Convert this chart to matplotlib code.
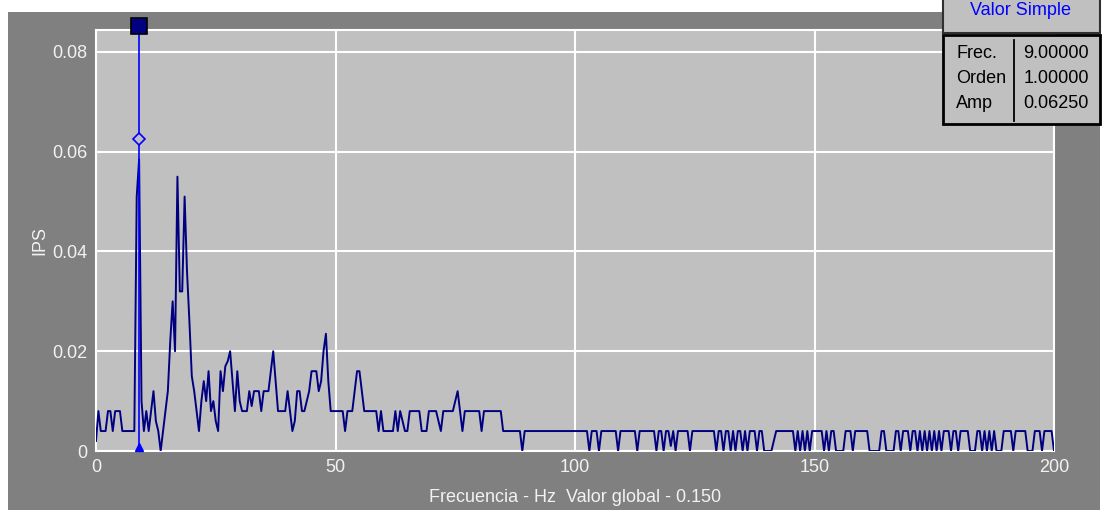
import matplotlib
matplotlib.use("Agg")
import matplotlib.pyplot as plt
import numpy as np
from matplotlib.patches import Rectangle

plt.rcParams['font.family'] = ['Liberation Sans', 'DejaVu Sans']

# spectrum, 0.5 Hz lines from 0 to 200 Hz (IPS)
amp_0_25 = [0.002, 0.008, 0.004, 0.004, 0.004, 0.008, 0.008, 0.004, 0.008, 0.008,
            0.008, 0.004, 0.004, 0.004, 0.004, 0.004, 0.004, 0.051, 0.0585, 0.010,
            0.004, 0.008, 0.004, 0.008, 0.012, 0.006, 0.004, 0.000, 0.004, 0.008,
            0.012, 0.022, 0.030, 0.020, 0.055, 0.032, 0.032, 0.051, 0.036, 0.026,
            0.015, 0.012, 0.008, 0.004, 0.010, 0.014, 0.010, 0.016, 0.008, 0.010,
            0.006]
amp_25_50 = [0.004, 0.016, 0.012, 0.017, 0.018, 0.020, 0.014, 0.008, 0.016, 0.010,
             0.008, 0.008, 0.008, 0.012, 0.009, 0.012, 0.012, 0.012, 0.008, 0.012,
             0.012, 0.012, 0.016, 0.020, 0.014, 0.008, 0.008, 0.008, 0.008, 0.012,
             0.008, 0.004, 0.006, 0.012, 0.012, 0.008, 0.008, 0.010, 0.012, 0.016,
             0.016, 0.016, 0.012, 0.014, 0.020, 0.0235, 0.014, 0.008, 0.008, 0.008]
amp_50_90 = [0.008, 0.008, 0.008, 0.004, 0.008, 0.008, 0.008, 0.012, 0.016, 0.016,
             0.012, 0.008, 0.008, 0.008, 0.008, 0.008, 0.008, 0.004, 0.008, 0.004,
             0.004, 0.004, 0.004, 0.004, 0.008, 0.004, 0.008, 0.006, 0.004, 0.004,
             0.008, 0.008, 0.008, 0.008, 0.008, 0.004, 0.004, 0.004, 0.008, 0.008,
             0.008, 0.008, 0.006, 0.004, 0.008, 0.008, 0.008, 0.008, 0.008, 0.010,
             0.012, 0.008, 0.004, 0.008, 0.008, 0.008, 0.008, 0.008, 0.008, 0.008,
             0.004, 0.008, 0.008, 0.008, 0.008, 0.008, 0.008, 0.008, 0.008, 0.004,
             0.004, 0.004, 0.004, 0.004, 0.004, 0.004, 0.004, 0.000, 0.004, 0.004]
amp_90_150 = [0.004, 0.004, 0.004, 0.004, 0.004, 0.004, 0.004, 0.004, 0.004, 0.004,
              0.004, 0.004, 0.004, 0.004, 0.004, 0.004, 0.004, 0.004, 0.004, 0.004,
              0.004, 0.004, 0.004, 0.004, 0.004, 0.000, 0.004, 0.004, 0.004, 0.000,
              0.004, 0.004, 0.004, 0.004, 0.004, 0.004, 0.004, 0.000, 0.004, 0.004,
              0.004, 0.004, 0.004, 0.004, 0.004, 0.000, 0.004, 0.004, 0.004, 0.004,
              0.004, 0.004, 0.004, 0.000, 0.004, 0.004, 0.000, 0.004, 0.004, 0.001,
              0.004, 0.000, 0.004, 0.004, 0.004, 0.004, 0.004, 0.000, 0.004, 0.004,
              0.004, 0.004, 0.004, 0.004, 0.004, 0.004, 0.004, 0.004, 0.000, 0.004,
              0.004, 0.000, 0.004, 0.004, 0.000, 0.004, 0.000, 0.004, 0.004, 0.000,
              0.004, 0.000, 0.004, 0.004, 0.004, 0.000, 0.004, 0.004, 0.000, 0.000,
              0.000, 0.000, 0.002, 0.004, 0.004, 0.004, 0.004, 0.004, 0.004, 0.004,
              0.004, 0.000, 0.004, 0.000, 0.004, 0.000, 0.004, 0.000, 0.004, 0.004]
amp_150_200 = [0.004, 0.004, 0.004, 0.000, 0.004, 0.000, 0.004, 0.004, 0.000, 0.000,
               0.000, 0.000, 0.004, 0.004, 0.004, 0.000, 0.004, 0.004, 0.004, 0.004,
               0.004, 0.004, 0.000, 0.000, 0.000, 0.000, 0.000, 0.004, 0.004, 0.000,
               0.000, 0.000, 0.000, 0.004, 0.004, 0.000, 0.004, 0.004, 0.004, 0.000,
               0.004, 0.004, 0.000, 0.004, 0.000, 0.004, 0.000, 0.004, 0.000, 0.004,
               0.000, 0.004, 0.000, 0.004, 0.004, 0.004, 0.000, 0.004, 0.004, 0.000,
               0.004, 0.004, 0.004, 0.004, 0.000, 0.000, 0.000, 0.004, 0.004, 0.000,
               0.004, 0.000, 0.004, 0.000, 0.004, 0.000, 0.000, 0.000, 0.004, 0.004,
               0.004, 0.004, 0.000, 0.004, 0.004, 0.004, 0.004, 0.004, 0.000, 0.000,
               0.000, 0.004, 0.004, 0.004, 0.000, 0.004, 0.004, 0.004, 0.004, 0.000]

amp = np.array(amp_0_25 + amp_25_50 + amp_50_90 + amp_90_150 + amp_150_200)
freq = np.arange(len(amp)) * 0.5

cursor_freq = 9.0
cursor_amp = 0.0625
cursor_top = 0.0852

info_labels = ["Frec.", "Orden", "Amp"]
info_values = ["9.00000", "1.00000", "0.06250"]

W, H = 1102, 513
fig = plt.figure(figsize=(W / 100, H / 100), dpi=100)
fig.patch.set_facecolor("white")


def fx(px):
    return px / W


def fy(py):
    return 1 - py / H


# dark grey panel behind the chart
fig.add_artist(Rectangle((fx(8), fy(510)), fx(1092), 498 / H,
                         transform=fig.transFigure, facecolor="#808080",
                         edgecolor="none", zorder=0))

ax = fig.add_axes([fx(96), fy(451), fx(958), 421 / H])
ax.set_facecolor("#C0C0C0")
ax.plot(freq, amp, color="#000080", lw=1.4, zorder=3)

# cursor at the 1x peak
ax.plot([cursor_freq, cursor_freq], [0, cursor_top], color="#0000FF", lw=1.2,
        zorder=4, clip_on=False)
ax.plot(cursor_freq, cursor_amp, marker="D", ms=6, mfc="#C0C0C0", mec="#0000FF",
        mew=1.2, zorder=5)
ax.plot(cursor_freq, 0.0008, marker="^", ms=6, color="#0000FF", zorder=5,
        clip_on=False)
ax.plot(cursor_freq, cursor_top, marker="s", ms=11, mfc="#000080", mec="black",
        mew=1.2, zorder=6, clip_on=False)

ax.set_xlim(0, 200)
ax.set_ylim(0, 0.0844)
ax.set_xticks([0, 50, 100, 150, 200])
ax.set_yticks([0, 0.02, 0.04, 0.06, 0.08])
ax.set_yticklabels(["0", "0.02", "0.04", "0.06", "0.08"])
ax.grid(True, color="white", lw=1.5)
ax.set_axisbelow(True)
for s in ax.spines.values():
    s.set_color("white")
    s.set_linewidth(1.5)
ax.tick_params(length=0, colors="#F2F2F2", labelsize=13, pad=6)
ax.set_xlabel("Frecuencia - Hz  Valor global - 0.150", color="#F2F2F2",
              fontsize=13, labelpad=9)
ax.set_ylabel("IPS", color="#F2F2F2", fontsize=13, labelpad=3)

# "Valor Simple" readout box
fig.add_artist(Rectangle((fx(943), fy(33)), fx(157), 40 / H,
                         transform=fig.transFigure, facecolor="#C0C0C0",
                         edgecolor="#303030", lw=1.5, zorder=5))
fig.text(fx(1021), fy(11), "Valor Simple", color="#0000FF", fontsize=13,
         ha="center", va="center", zorder=6)
fig.add_artist(Rectangle((fx(943), fy(124)), fx(157), 89 / H,
                         transform=fig.transFigure, facecolor="#C0C0C0",
                         edgecolor="black", lw=2, zorder=5))
fig.add_artist(plt.Line2D([fx(1014), fx(1014)], [fy(40), fy(121)],
                          transform=fig.transFigure, color="black", lw=1.3,
                          zorder=6))
for i, (lab, val) in enumerate(zip(info_labels, info_values)):
    yy = fy(54 + 25 * i)
    fig.text(fx(956), yy, lab, fontsize=13, ha="left", va="center",
             color="black", zorder=6)
    fig.text(fx(1089), yy, val, fontsize=13, ha="right", va="center",
             color="black", zorder=6)

fig.savefig("out.png", dpi=100, facecolor=fig.get_facecolor())
